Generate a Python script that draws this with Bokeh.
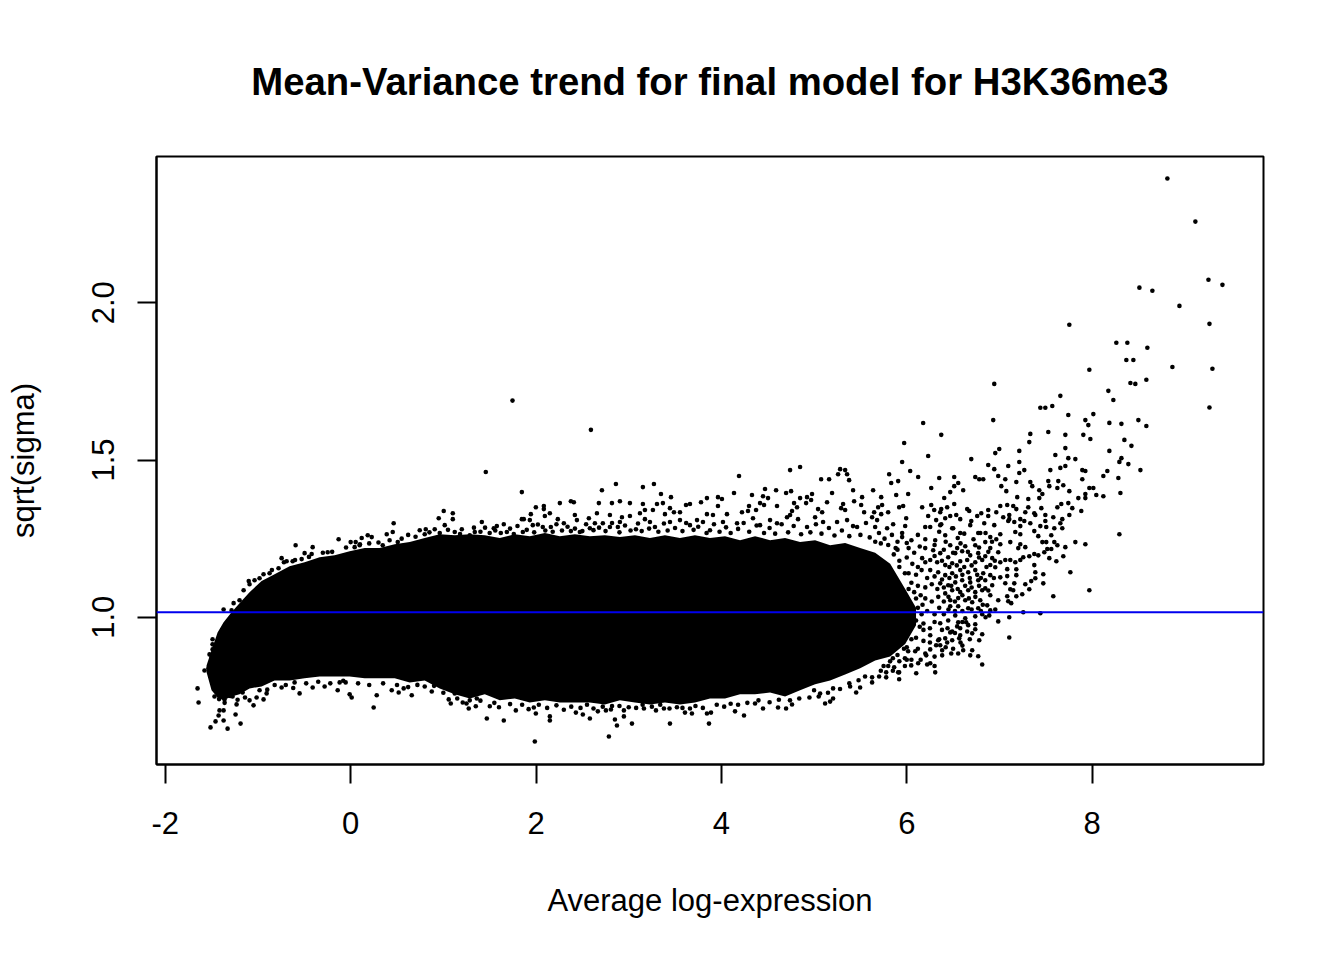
from bokeh.plotting import figure
from bokeh.embed import file_html
from bokeh.resources import INLINE
from bokeh.models import FixedTicker, Span, ColumnDataSource

title_text = "Mean-Variance trend for final model for H3K36me3"
x_label = "Average log-expression"
y_label = "sqrt(sigma)"
x_ticks = [-2, 0, 2, 4, 6, 8]
y_ticks = [1.0, 1.5, 2.0]
trend_level = 1.016

# envelope of the saturated cloud
core_x = [-1.555,-1.501,-1.436,-1.371,-1.285,-1.199,-1.091,-0.961,-0.821,-0.659,-0.497,-0.335,-0.173,-0.011,0.151,0.313,0.475,0.637,0.799,0.961,1.123,1.285,1.447,1.609,1.771,1.933,2.095,2.257,2.419,2.581,2.743,2.905,3.067,3.229,3.391,3.553,3.715,3.877,4.039,4.201,4.363,4.525,4.687,4.849,5.011,5.173,5.335,5.497,5.659,5.821,5.983,6.100]
core_upper = [0.847,0.895,0.952,0.984,1.016,1.045,1.080,1.115,1.137,1.162,1.175,1.191,1.197,1.210,1.220,1.220,1.232,1.239,1.252,1.264,1.261,1.264,1.261,1.252,1.264,1.258,1.268,1.258,1.264,1.258,1.261,1.255,1.261,1.252,1.261,1.252,1.261,1.252,1.258,1.245,1.258,1.245,1.252,1.239,1.245,1.229,1.236,1.220,1.205,1.170,1.090,1.030]
core_lower = [0.825,0.768,0.745,0.736,0.748,0.755,0.774,0.780,0.799,0.799,0.806,0.812,0.812,0.812,0.806,0.806,0.806,0.793,0.799,0.774,0.755,0.742,0.755,0.736,0.742,0.729,0.736,0.729,0.729,0.729,0.723,0.736,0.729,0.723,0.729,0.723,0.729,0.742,0.742,0.755,0.755,0.761,0.748,0.768,0.787,0.799,0.818,0.838,0.863,0.875,0.915,0.975]

tail_points = [(8.812,2.395),(9.114,2.258),(9.255,2.073),(9.406,2.057),(8.510,2.048),(8.650,2.038),(8.942,1.990),(9.266,1.933),(7.754,1.930),(8.261,1.873),(8.380,1.873),(8.596,1.857),(8.369,1.818),(8.445,1.818),(8.866,1.796),(9.298,1.790),(9.266,1.667),(7.970,1.787),(6.944,1.742),(8.413,1.745),(8.466,1.742),(8.585,1.755),(8.175,1.720),(7.657,1.704),(8.229,1.691),(7.441,1.666),(7.495,1.666),(7.570,1.672),(7.743,1.643),(8.013,1.646),(7.927,1.627),(7.959,1.611),(8.186,1.618),(8.316,1.615),(8.499,1.627),(8.585,1.608),(6.933,1.627),(6.177,1.618),(6.372,1.580),(5.972,1.554),(7.333,1.583),(7.527,1.589),(7.711,1.580),(7.905,1.580),(7.981,1.567),(8.348,1.564),(7.322,1.557),(8.424,1.545),(6.998,1.535),(6.955,1.522),(7.214,1.529),(7.711,1.538),(8.186,1.529),(7.603,1.516),(6.231,1.513),(6.696,1.503),(7.743,1.506),(7.819,1.503),(8.316,1.506),(8.294,1.494),(8.391,1.487),(5.950,1.494),(7.214,1.494),(6.879,1.484),(7.095,1.481),(7.711,1.481),(7.657,1.475),(6.944,1.471),(7.549,1.468),(7.268,1.468),(7.894,1.468),(7.927,1.465),(8.164,1.465),(8.521,1.468),(6.037,1.465),(7.214,1.459),(8.121,1.449),(6.123,1.446),(6.739,1.446),(6.987,1.449),(6.782,1.439),(6.825,1.439),(6.512,1.446),(6.350,1.443),(7.063,1.439),(7.894,1.439),(8.283,1.443),(7.635,1.433),(7.182,1.430),(7.527,1.433),(7.333,1.430),(6.555,1.427),(6.512,1.417),(7.020,1.417),(7.689,1.420),(6.264,1.411),(7.538,1.417),(7.354,1.417),(7.625,1.411),(7.970,1.411),(8.013,1.411),(7.430,1.404),(6.469,1.398),(6.609,1.404),(7.074,1.401),(7.754,1.401),(8.305,1.395),(6.015,1.392),(7.463,1.392),(7.927,1.392),(8.045,1.389),(8.121,1.385),(6.404,1.379),(7.192,1.382),(7.430,1.379),(7.311,1.376),(7.851,1.379),(7.927,1.379),(7.743,1.363),(7.667,1.360),(6.512,1.360),(7.084,1.357),(7.009,1.354),(7.149,1.354),(6.264,1.357),(5.961,1.354),(6.166,1.350),(6.436,1.350),(7.625,1.350),(7.786,1.347),(7.311,1.350),(7.452,1.347),(7.182,1.344),(6.372,1.344),(6.652,1.344),(6.296,1.341),(7.883,1.338),(7.279,1.334),(6.879,1.341),(6.674,1.338),(6.361,1.334),(7.376,1.331),(6.966,1.334),(6.804,1.331),(7.754,1.325),(6.231,1.322),(6.469,1.322),(6.534,1.325),(6.415,1.315),(5.994,1.315),(6.760,1.322),(6.879,1.322),(7.041,1.318),(7.106,1.325),(7.106,1.312),(7.387,1.325),(7.495,1.325),(7.581,1.318),(7.678,1.312),(6.317,1.309),(6.577,1.312),(7.225,1.312),(7.268,1.306),(7.495,1.306),(7.657,1.299),(6.372,1.296),(6.696,1.306),(6.836,1.299),(7.095,1.306),(6.944,1.293),(7.160,1.303),(7.333,1.299),(7.441,1.290),(7.225,1.290),(7.505,1.287),(7.592,1.283),(7.678,1.283),(5.983,1.290),(6.199,1.287),(6.501,1.283)]

mid_points = [(8.294,1.264),(7.819,1.239),(7.927,1.232),(7.711,1.223),(7.376,1.274),(7.419,1.258),(7.559,1.261),(7.592,1.239),(7.625,1.229),(7.463,1.239),(7.505,1.239),(7.516,1.217),(7.559,1.217),(7.484,1.207),(7.689,1.194),(7.538,1.188),(7.614,1.178),(7.376,1.201),(7.419,1.197),(7.322,1.194),(7.376,1.166),(7.257,1.191),(7.225,1.182),(7.171,1.175),(7.117,1.182),(7.063,1.182),(7.009,1.175),(7.203,1.220),(7.279,1.223),(7.225,1.232),(7.117,1.239),(7.009,1.232),(6.966,1.248),(7.225,1.264),(7.171,1.271),(7.009,1.264),(6.901,1.255),(6.793,1.268),(7.765,1.143),(7.473,1.137),(7.387,1.143),(7.182,1.153),(7.084,1.153),(7.182,1.134),(7.387,1.124),(7.343,1.115),(7.473,1.108),(7.279,1.105),(7.084,1.131),(7.009,1.127),(7.160,1.108),(7.063,1.108),(7.970,1.086),(7.581,1.067),(7.322,1.089),(7.117,1.089),(7.149,1.086),(7.246,1.073),(7.182,1.067),(7.084,1.067),(7.095,1.051),(7.127,1.045),(6.987,1.054),(6.955,1.025),(7.257,1.016),(7.441,1.013),(7.106,1.000),(6.987,0.987),(7.106,0.936),(6.890,1.006),(6.814,1.010),(6.782,0.927),(6.814,0.946),(6.739,0.978),(6.739,0.962),(6.652,0.955),(6.706,0.949),(6.641,0.984),(6.706,0.895),(6.609,0.895),(6.555,0.885),(6.685,0.879),(6.771,0.876),(6.814,0.850),(6.577,0.943),(6.566,0.933),(6.490,0.927),(6.436,0.920),(6.382,0.895),(6.382,0.879),(6.307,0.825),(6.253,0.854),(6.102,0.822),(6.123,0.854),(6.048,0.847),(5.918,0.825),(5.864,0.841),(5.778,0.825),(5.778,0.809),(5.918,0.803),(6.210,0.879),(6.091,0.892),(6.015,0.892),(6.253,0.898),(6.317,0.911),(6.361,0.911),(6.490,0.955),(6.544,0.971),(6.361,0.981)]

cloud_points = [(6.253,1.287),(6.361,1.293),(6.490,1.283),(6.577,1.268),(6.685,1.293),(6.771,1.268),(6.307,1.245),(6.415,1.261),(6.469,1.229),(6.544,1.220),(6.631,1.226),(6.739,1.229),(6.847,1.239),(6.901,1.220),(6.199,1.220),(6.285,1.213),(6.361,1.204),(6.447,1.191),(6.523,1.204),(6.598,1.210),(6.685,1.197),(6.771,1.204),(6.847,1.194),(6.922,1.188),(6.987,1.207),(6.166,1.188),(6.253,1.182),(6.328,1.175),(6.415,1.166),(6.490,1.172),(6.577,1.178),(6.652,1.182),(6.739,1.175),(6.814,1.182),(6.901,1.166),(6.955,1.159),(6.253,1.150),(6.339,1.143),(6.415,1.134),(6.490,1.140),(6.577,1.150),(6.663,1.143),(6.739,1.150),(6.825,1.140),(6.901,1.134),(6.847,1.118),(6.361,1.108),(6.447,1.102),(6.523,1.111),(6.598,1.118),(6.685,1.111),(6.771,1.118),(6.847,1.092),(6.922,1.102),(6.415,1.076),(6.490,1.086),(6.577,1.080),(6.663,1.086),(6.739,1.080),(6.814,1.086),(6.901,1.070),(6.469,1.054),(6.555,1.061),(6.631,1.054),(6.706,1.048),(6.793,1.054),(6.868,1.038),(6.469,1.035),(6.555,1.035),(6.663,1.029),(6.771,1.029),(6.901,1.022),(6.523,1.006),(6.631,0.997),(6.739,1.003),(6.447,0.990),(6.555,0.984),(6.663,0.975),(6.577,0.965),(6.469,0.952),(6.415,0.933),(6.339,0.927),(6.253,0.943)]

cloud_extra_points = [(5.95,1.255),(6.05,1.245),(6.12,1.262),(6.20,1.248),(6.35,1.272),(6.42,1.240),(6.55,1.252),(6.62,1.266),(6.72,1.248),(6.85,1.268),(6.92,1.240),(5.90,1.215),(6.02,1.220),(6.08,1.205),(6.14,1.225),(6.30,1.230),(6.40,1.215),(6.50,1.205),(6.58,1.235),(6.66,1.208),(6.78,1.222),(6.88,1.208),(5.92,1.180),(6.00,1.190),(6.06,1.170),(6.12,1.160),(6.20,1.175),(6.30,1.195),(6.38,1.180),(6.46,1.160),(6.54,1.165),(6.62,1.160),(6.70,1.165),(6.78,1.190),(6.86,1.160),(6.95,1.180),(6.02,1.140),(6.10,1.135),(6.16,1.150),(6.22,1.125),(6.30,1.130),(6.38,1.120),(6.46,1.125),(6.53,1.130),(6.60,1.135),(6.68,1.125),(6.76,1.135),(6.80,1.125),(6.94,1.125),(6.12,1.100),(6.20,1.095),(6.27,1.105),(6.33,1.090),(6.40,1.095),(6.48,1.100),(6.55,1.090),(6.63,1.100),(6.70,1.095),(6.78,1.100),(6.88,1.085),(6.10,1.060),(6.20,1.060),(6.27,1.050),(6.34,1.065),(6.40,1.050),(6.45,1.065),(6.52,1.050),(6.60,1.070),(6.67,1.060),(6.74,1.065),(6.82,1.040),(6.12,1.030),(6.22,1.020),(6.30,1.010),(6.35,1.030),(6.40,1.010),(6.45,1.025),(6.52,1.020),(6.60,1.020),(6.70,1.025),(6.80,1.020),(6.85,1.000),(6.10,0.990),(6.18,0.980),(6.25,0.965),(6.30,0.985),(6.38,0.960),(6.44,0.965),(6.52,0.950),(6.60,0.985),(6.68,0.930),(6.58,0.920),(6.10,0.935),(6.18,0.925),(6.25,0.920),(6.35,0.930),(6.42,0.905),(6.50,0.900),(6.60,0.910),(6.12,0.900),(6.20,0.885),(6.30,0.875),(6.48,0.885),(6.00,0.905),(5.98,0.870),(6.05,0.865),(6.15,0.865),(6.22,0.850),(6.30,0.845),(5.85,0.870),(5.92,0.860),(5.75,0.845),(5.86,1.200),(5.92,1.160),(5.98,1.140),(6.05,1.110),(6.02,1.090),(6.08,1.080),(6.15,1.070),(6.17,1.040),(6.16,1.010),(6.18,0.960),(6.14,0.970),(6.05,0.930),(5.97,0.900),(5.90,0.880),(5.82,0.860),(5.88,1.220),(5.80,1.230),(5.72,1.235),(5.66,1.240)]

upper_points = [(1.458,1.462),(1.746,1.689),(2.592,1.596),(1.847,1.398),(1.415,1.303),(1.544,1.283),(1.577,1.290),(1.652,1.296),(1.685,1.271),(1.847,1.312),(1.868,1.312),(1.944,1.328),(1.998,1.350),(2.084,1.354),(2.084,1.344),(2.149,1.331),(2.095,1.322),(2.257,1.363),(2.376,1.369),(2.408,1.366),(2.419,1.325),(2.570,1.315),(2.678,1.363),(2.711,1.404),(2.657,1.331),(2.819,1.363),(2.862,1.424),(2.905,1.369),(2.797,1.325),(2.927,1.318),(3.013,1.363),(3.013,1.322),(3.153,1.414),(3.272,1.424),(3.153,1.360),(3.121,1.331),(3.175,1.341),(3.261,1.341),(3.305,1.360),(3.369,1.363),(3.348,1.392),(3.456,1.382),(3.445,1.347),(3.488,1.334),(3.391,1.328),(3.553,1.334),(3.618,1.357),(3.661,1.360),(3.780,1.366),(3.844,1.379),(3.963,1.382),(4.006,1.376),(3.963,1.354),(3.844,1.328),(3.909,1.325),(4.060,1.328),(4.136,1.395),(4.190,1.449),(4.330,1.389),(4.298,1.354),(4.222,1.334),(4.287,1.338),(4.374,1.341),(4.471,1.408),(4.449,1.385),(4.503,1.379),(4.417,1.363),(4.460,1.357),(4.590,1.404),(4.600,1.354),(4.698,1.395),(4.752,1.401),(4.741,1.468),(4.849,1.478),(4.784,1.363),(4.816,1.350),(4.849,1.379),(4.924,1.382),(4.978,1.392),(4.968,1.373),(4.914,1.363),(4.762,1.338),(4.708,1.318),(5.043,1.344),(5.087,1.334),(5.076,1.439),(5.162,1.439),(5.259,1.455),(5.281,1.471),(5.335,1.468),(5.356,1.455),(5.378,1.436),(5.421,1.404),(5.194,1.395),(5.140,1.366),(5.313,1.360),(5.292,1.347),(5.335,1.341),(5.432,1.369),(5.518,1.382),(5.508,1.357),(5.540,1.334),(5.637,1.404),(5.724,1.382),(5.691,1.350),(5.734,1.357),(5.648,1.334),(5.724,1.328),(5.626,1.318),(5.810,1.455),(5.832,1.427),(5.907,1.433),(5.886,1.389),(5.918,1.350),(5.799,1.334),(1.858,1.271),(1.933,1.309),(1.965,1.293),(2.073,1.287),(2.160,1.287),(2.235,1.312),(2.300,1.299),(2.376,1.274),(2.441,1.309),(2.473,1.271),(2.581,1.283),(2.635,1.299),(2.721,1.299),(2.797,1.287),(2.905,1.303),(2.883,1.287),(3.078,1.280),(3.175,1.312),(3.229,1.303),(3.283,1.287),(3.445,1.303),(3.553,1.309),(3.661,1.293),(3.737,1.309),(3.801,1.303),(3.877,1.277),(4.017,1.303),(4.169,1.299),(4.341,1.315),(4.417,1.293),(4.525,1.309),(4.600,1.299),(4.741,1.325),(4.827,1.312),(4.924,1.287),(5.011,1.318),(5.097,1.303),(5.248,1.303),(5.356,1.309),(5.464,1.287),(5.680,1.309),(5.659,1.287),(5.788,1.283),(5.853,1.296)]

upper_edge_points = [(1.40,1.272),(1.45,1.285),(1.50,1.268),(1.56,1.276),(1.62,1.268),(1.72,1.282),(1.76,1.265),(1.80,1.290),(1.90,1.278),(1.98,1.270),(2.02,1.295),(2.10,1.276),(2.18,1.272),(2.22,1.296),(2.28,1.276),(2.34,1.288),(2.42,1.282),(2.50,1.274),(2.54,1.296),(2.62,1.277),(2.68,1.285),(2.75,1.274),(2.82,1.300),(2.90,1.270),(2.96,1.292),(3.02,1.276),(3.10,1.298),(3.14,1.274),(3.22,1.282),(3.32,1.272),(3.38,1.298),(3.42,1.276),(3.50,1.284),(3.58,1.274),(3.62,1.300),(3.70,1.278),(3.75,1.288),(3.84,1.268),(3.92,1.296),(3.98,1.272),(4.05,1.286),(4.10,1.268),(4.18,1.281),(4.24,1.300),(4.30,1.272),(4.38,1.292),(4.46,1.268),(4.52,1.284),(4.58,1.266),(4.65,1.296),(4.72,1.270),(4.78,1.290),(4.86,1.264),(4.96,1.270),(5.02,1.296),(5.08,1.266),(5.16,1.284),(5.22,1.260),(5.30,1.276),(5.38,1.258),(5.42,1.290),(5.50,1.262),(5.56,1.300),(5.60,1.254),(5.70,1.268),(5.76,1.250),(5.84,1.262),(5.90,1.240),(5.95,1.268),(6.00,1.236),(-1.10,1.115),(-0.85,1.150),(-0.72,1.175),(-0.60,1.182),(-0.45,1.192),(-0.30,1.205),(-0.20,1.208),(-0.05,1.222),(0.10,1.232),(0.20,1.235),(0.30,1.238),(0.42,1.245),(0.55,1.250),(0.62,1.262),(0.70,1.256),(0.85,1.270),(1.05,1.278),(1.18,1.265),(1.33,1.285)]

left_top_points = [(-0.594,1.229),(-0.745,1.188),(-0.691,1.178),(-0.626,1.178),(-0.529,1.185),(-0.497,1.204),(-0.421,1.201),(-0.410,1.223),(-0.248,1.207),(-0.130,1.248),(0.000,1.239),(0.054,1.239),(0.043,1.223),(0.119,1.252),(0.184,1.261),(0.227,1.255),(0.097,1.229),(0.346,1.229),(0.389,1.264),(0.454,1.271),(0.464,1.299),(0.508,1.239),(0.745,1.277),(0.799,1.264),(0.810,1.280),(0.907,1.280),(0.950,1.315),(1.004,1.338),(1.102,1.331),(1.102,1.312),(1.015,1.293),(1.123,1.271),(1.199,1.280),(0.961,1.268),(1.285,1.261),(1.339,1.271),(-1.371,1.025),(-1.285,1.022),(-1.263,1.045),(-1.199,1.054),(-1.155,1.086),(-1.091,1.105),(-1.037,1.118),(-0.983,1.124),(-0.940,1.137),(-0.875,1.140),(-0.778,1.156)]

left_low_points = [(-1.490,0.930),(-1.490,0.914),(-1.490,0.898),(-1.523,0.882),(-1.501,0.873),(-1.577,0.831),(-1.533,0.838),(-1.652,0.774),(-1.641,0.729),(-1.512,0.650),(-1.458,0.669),(-1.425,0.688),(-1.415,0.704),(-1.371,0.704),(-1.371,0.672),(-1.328,0.646),(-1.242,0.691),(-1.188,0.662),(-1.231,0.723),(-1.048,0.720),(-1.091,0.736),(-1.015,0.745),(-0.940,0.739),(-0.907,0.758),(-0.983,0.768),(-1.166,0.761),(-1.274,0.748),(-1.361,0.739),(-1.469,0.748)]

bottom_points = [(-0.745,0.777),(-0.551,0.758),(-0.410,0.777),(-0.605,0.793),(-0.281,0.780),(-0.140,0.768),(-0.119,0.793),(-0.054,0.793),(-0.011,0.755),(0.011,0.745),(0.281,0.752),(0.248,0.713),(0.443,0.768),(0.518,0.761),(0.572,0.774),(0.659,0.752),(0.875,0.764),(0.799,0.780),(1.058,0.739),(1.080,0.726),(1.209,0.729),(1.274,0.710),(1.350,0.717),(1.361,0.742),(1.123,0.758),(1.285,0.736),(1.501,0.717),(1.469,0.678),(1.652,0.672),(1.782,0.704),(1.998,0.694),(1.976,0.713),(2.149,0.685),(2.149,0.672),(1.987,0.605),(2.430,0.697),(2.505,0.691),(2.581,0.678),(2.667,0.701),(2.754,0.704),(2.808,0.707),(2.948,0.704),(2.948,0.685),(2.851,0.675),(2.873,0.656),(3.035,0.662),(2.786,0.621),(3.164,0.710),(3.294,0.704),(3.380,0.710),(3.445,0.662),(3.607,0.697),(3.682,0.694),(3.661,0.710),(3.844,0.694),(3.888,0.697),(3.866,0.662),(4.147,0.701),(4.244,0.688),(4.363,0.726),(4.449,0.710),(4.611,0.713),(4.698,0.710),(4.762,0.723),(5.119,0.726),(5.173,0.732),(5.205,0.742),(5.454,0.761),(5.497,0.777),(5.389,0.780),(5.065,0.758),(5.000,0.768),(5.205,0.774),(5.626,0.793),(5.626,0.809),(5.702,0.812),(5.907,0.825)]

lower_edge_points = [(1.40,0.735),(1.55,0.728),(1.60,0.714),(1.72,0.724),(1.85,0.722),(1.92,0.708),(2.03,0.722),(2.12,0.712),(2.22,0.720),(2.30,0.706),(2.38,0.716),(2.48,0.712),(2.55,0.722),(2.62,0.710),(2.72,0.716),(2.82,0.718),(2.90,0.718),(3.00,0.714),(3.08,0.712),(3.15,0.722),(3.25,0.716),(3.34,0.722),(3.44,0.710),(3.52,0.714),(3.58,0.712),(3.72,0.718),(3.80,0.712),(3.95,0.722),(4.03,0.716),(4.10,0.725),(4.18,0.722),(4.28,0.728),(4.40,0.736),(4.52,0.730),(4.62,0.738),(4.74,0.736),(4.84,0.742),(4.95,0.745),(5.05,0.748),(5.15,0.760),(5.28,0.772),(5.38,0.790),(5.48,0.800),(5.55,0.812),(5.72,0.830),(5.80,0.845),(5.85,0.830),(5.98,0.845),(6.00,0.865),(-0.90,0.770),(-0.82,0.785),(-0.70,0.785),(-0.62,0.775),(-0.48,0.790),(-0.35,0.795),(-0.22,0.790),(-0.08,0.798),(0.08,0.790),(0.20,0.785),(0.35,0.790),(0.50,0.785),(0.62,0.778),(0.72,0.785),(0.90,0.782),(1.00,0.760),(1.15,0.742),(1.25,0.726),(-1.44,0.780),(-1.42,0.740),(-1.36,0.728),(-1.30,0.750),(-1.22,0.738),(-1.14,0.745)]

p = figure(width=1328, height=944, x_range=(-2.095, 9.849), y_range=(0.532, 2.465),
           output_backend="svg", toolbar_location=None, title=title_text,
           min_border_left=156, min_border_right=65, min_border_top=156, min_border_bottom=180)
p.background_fill_color = "white"
p.border_fill_color = "white"
p.grid.visible = False
p.outline_line_color = "black"
p.outline_line_width = 2

p.title.text_font = "Liberation Sans"
p.title.text_font_size = "38.3px"
p.title.text_font_style = "bold"
p.title.text_color = "black"
p.title.align = "center"
p.title.standoff = 108

for ax in (p.xaxis[0], p.yaxis[0]):
    ax.axis_line_color = "black"
    ax.axis_line_width = 2
    ax.major_tick_line_color = "black"
    ax.major_tick_line_width = 2
    ax.major_tick_in = 0
    ax.major_tick_out = 19
    ax.minor_tick_line_color = None
    ax.major_label_text_font = "Liberation Sans"
    ax.major_label_text_font_size = "31px"
    ax.major_label_text_color = "black"
    ax.axis_label_text_font = "Liberation Sans"
    ax.axis_label_text_font_size = "31px"
    ax.axis_label_text_font_style = "normal"
    ax.axis_label_text_color = "black"

p.xaxis[0].ticker = FixedTicker(ticks=x_ticks)
p.yaxis[0].ticker = FixedTicker(ticks=y_ticks)
p.xaxis[0].axis_label = x_label
p.yaxis[0].axis_label = y_label
p.yaxis[0].major_label_orientation = "vertical"
p.yaxis[0].formatter.use_scientific = False
p.xaxis[0].major_label_standoff = 28
p.yaxis[0].major_label_standoff = 23
p.xaxis[0].major_label_overrides = {-2: "-2"}
p.yaxis[0].major_label_overrides = {1.0: "1.0", 1.5: "1.5", 2.0: "2.0"}
p.xaxis[0].axis_label_standoff = 46
p.yaxis[0].axis_label_standoff = 49

p.varea(x=core_x, y1=core_lower, y2=core_upper, fill_color="black")

sparse = (tail_points + mid_points + cloud_points + cloud_extra_points + upper_points + upper_edge_points
          + left_top_points + left_low_points + bottom_points + lower_edge_points)
src = ColumnDataSource(dict(x=[a for a, b in sparse], y=[b for a, b in sparse]))
p.scatter("x", "y", source=src, marker="circle", size=4.6, fill_color="black", line_color=None)

p.add_layout(Span(location=trend_level, dimension="width", line_color="#0000ee", line_width=2))

open("out.html", "w").write(file_html(p, INLINE))
